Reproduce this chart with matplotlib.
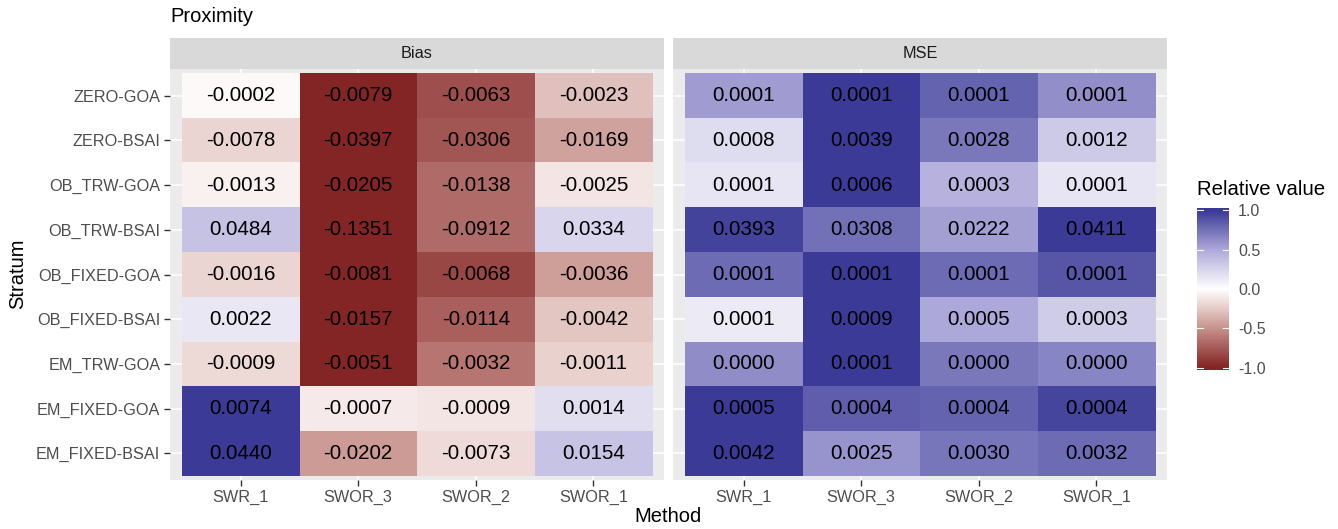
import numpy as np
import matplotlib
import matplotlib.pyplot as plt
from matplotlib.colors import LinearSegmentedColormap

matplotlib.use("Agg")
plt.rcParams['font.family'] = ['Liberation Sans', 'DejaVu Sans']

W, H = 1338, 529

strata = ["ZERO-GOA", "ZERO-BSAI", "OB_TRW-GOA", "OB_TRW-BSAI", "OB_FIXED-GOA",
          "OB_FIXED-BSAI", "EM_TRW-GOA", "EM_FIXED-GOA", "EM_FIXED-BSAI"]
methods = ["SWR_1", "SWOR_3", "SWOR_2", "SWOR_1"]

bias = [
    [-0.0002, -0.0079, -0.0063, -0.0023],
    [-0.0078, -0.0397, -0.0306, -0.0169],
    [-0.0013, -0.0205, -0.0138, -0.0025],
    [0.0484, -0.1351, -0.0912, 0.0334],
    [-0.0016, -0.0081, -0.0068, -0.0036],
    [0.0022, -0.0157, -0.0114, -0.0042],
    [-0.0009, -0.0051, -0.0032, -0.0011],
    [0.0074, -0.0007, -0.0009, 0.0014],
    [0.0440, -0.0202, -0.0073, 0.0154],
]

mse = [
    [0.0001, 0.0001, 0.0001, 0.0001],
    [0.0008, 0.0039, 0.0028, 0.0012],
    [0.0001, 0.0006, 0.0003, 0.0001],
    [0.0393, 0.0308, 0.0222, 0.0411],
    [0.0001, 0.0001, 0.0001, 0.0001],
    [0.0001, 0.0009, 0.0005, 0.0003],
    [0.0000, 0.0001, 0.0000, 0.0000],
    [0.0005, 0.0004, 0.0004, 0.0004],
    [0.0042, 0.0025, 0.0030, 0.0032],
]

# relative MSE read from the tile shading (printed values are rounded)
mse_rel = [
    [0.56, 1.00, 0.82, 0.62],
    [0.21, 1.00, 0.72, 0.31],
    [0.15, 1.00, 0.45, 0.15],
    [0.96, 0.75, 0.54, 1.00],
    [0.78, 1.00, 0.78, 0.88],
    [0.12, 1.00, 0.50, 0.30],
    [0.63, 1.00, 0.72, 0.66],
    [1.00, 0.84, 0.82, 0.95],
    [1.00, 0.60, 0.73, 0.78],
]

cmap = LinearSegmentedColormap.from_list("rel", [
    (0.0, "#842525"), (0.25, "#C8928C"), (0.375, "#E6CBC7"), (0.5, "#FFFFFF"),
    (0.625, "#D8D5EC"), (0.75, "#AEAADA"), (1.0, "#3B3B97")])


def px(x0, y0, x1, y1):
    return [x0 / W, 1 - y1 / H, (x1 - x0) / W, (y1 - y0) / H]


fig = plt.figure(figsize=(W / 100, H / 100), dpi=100)

bias_arr = np.array(bias)
bias_rel = bias_arr / np.abs(bias_arr).max(axis=1, keepdims=True)

panels = [("Bias", bias_arr, bias_rel, 170, 664), ("MSE", np.array(mse), np.array(mse_rel), 673, 1167)]
for k, (name, vals, rel, x0, x1) in enumerate(panels):
    ax = fig.add_axes(px(x0, 69, x1, 480))
    ax.set_facecolor("#EBEBEB")
    for s in ax.spines.values():
        s.set_visible(False)
    for i in range(len(methods)):
        ax.axvline(i, color="white", lw=1.1, zorder=0)
    for j in range(len(strata)):
        ax.axhline(j, color="white", lw=1.1, zorder=0)
    ax.imshow(rel, cmap=cmap, vmin=-1, vmax=1, aspect="auto",
              extent=(-0.5, len(methods) - 0.5, len(strata) - 0.5, -0.5), zorder=1)
    for j in range(len(strata)):
        for i in range(len(methods)):
            ax.text(i, j, f"{vals[j, i]:.4f}", ha="center", va="center", fontsize=14.9, color="black", zorder=2)
    ax.set_xlim(-0.6, len(methods) - 0.4)
    ax.set_ylim(len(strata) - 0.4, -0.6)
    ax.set_xticks(range(len(methods)))
    ax.set_xticklabels(methods, fontsize=11.7, color="#4D4D4D")
    ax.set_yticks(range(len(strata)))
    if k == 0:
        ax.set_yticklabels(strata, fontsize=11.7, color="#4D4D4D")
        ax.tick_params(axis="y", length=4, width=1, color="#333333", pad=3)
    else:
        ax.tick_params(axis="y", length=0, labelleft=False)
    ax.tick_params(axis="x", length=4, width=1, color="#333333", pad=3)

    sax = fig.add_axes(px(x0, 38, x1, 69))
    sax.set_facecolor("#D9D9D9")
    sax.set_xticks([])
    sax.set_yticks([])
    for s in sax.spines.values():
        s.set_visible(False)
    sax.text(0.5, 0.5, name, ha="center", va="center", fontsize=11.7, color="#1A1A1A", transform=sax.transAxes)

fig.text(170 / W, 1 - 17 / H, "Proximity", fontsize=14.5, ha="left", va="center")
fig.text(18 / W, 1 - 274 / H, "Stratum", fontsize=14.5, rotation=90, ha="center", va="center")
fig.text(668 / W, 1 - 517 / H, "Method", fontsize=14.5, ha="center", va="center")

# legend colour bar
cax = fig.add_axes(px(1197, 208, 1229, 370))
grad = np.linspace(1.03, -1.03, 300).reshape(-1, 1)
cax.imshow(grad, cmap=cmap, vmin=-1, vmax=1, aspect="auto", extent=(0, 1, -1.03, 1.03))
cax.set_xlim(0, 1)
cax.set_ylim(-1.03, 1.03)
for s in cax.spines.values():
    s.set_visible(False)
cax.set_xticks([])
ticks = [1.0, 0.5, 0.0, -0.5, -1.0]
for t in ticks:
    cax.plot([0, 0.2], [t, t], color="white", lw=0.8)
    cax.plot([0.8, 1], [t, t], color="white", lw=0.8)
cax.yaxis.tick_right()
cax.set_yticks(ticks)
cax.set_yticklabels([f"{t:.1f}" for t in ticks], fontsize=11.5, color="#4D4D4D")
cax.tick_params(axis="y", length=0, pad=6.5)
fig.text(1197 / W, 1 - 189 / H, "Relative value", fontsize=14.7, ha="left", va="center")

fig.savefig("out.png", dpi=100)
